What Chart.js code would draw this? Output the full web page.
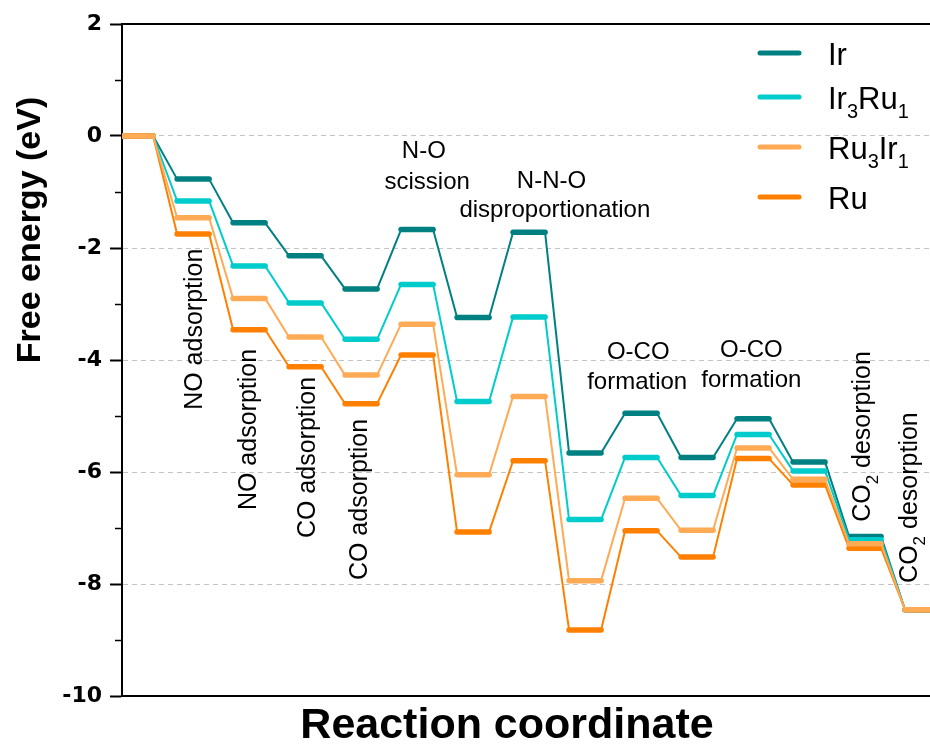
<!DOCTYPE html>
<html>
<head>
<meta charset="utf-8">
<title>Free energy profile</title>
<script src="https://cdn.jsdelivr.net/npm/chart.js@4.4.1/dist/chart.umd.min.js"></script>
<style>
  html, body { margin: 0; padding: 0; background: #fff; }
  #wrap { width: 930px; height: 752px; }
</style>
</head>
<body>
<div id="wrap"><canvas id="energy_chart" width="930" height="752"></canvas></div>
<script>
// reaction steps (intermediates) along the coordinate
var steps = [0, 1, 2, 3, 4, 5, 6, 7, 8, 9, 10, 11, 12, 13, 14];

// free energy of each intermediate (eV)
var irEnergy     = [0, -0.77, -1.55, -2.14, -2.73, -1.67, -3.24, -1.72, -5.66, -4.95, -5.74, -5.05, -5.82, -7.15, -8.46];
var ir3ru1Energy = [0, -1.16, -2.32, -2.98, -3.63, -2.65, -4.74, -3.23, -6.85, -5.74, -6.42, -5.33, -5.98, -7.21, -8.46];
var ru3ir1Energy = [0, -1.46, -2.90, -3.59, -4.27, -3.36, -6.05, -4.65, -7.94, -6.47, -7.04, -5.57, -6.13, -7.28, -8.46];
var ruEnergy     = [0, -1.75, -3.46, -4.12, -4.78, -3.91, -7.07, -5.80, -8.82, -7.05, -7.52, -5.76, -6.23, -7.36, -8.46];

// "_n" marks a subscript digit
var seriesNames  = ['Ir', 'Ir_3Ru_1', 'Ru_3Ir_1', 'Ru'];
var seriesColors = ['#008080', '#00CCCC', '#FFAA55', '#FF8000'];

// step labels: x in step units, y in eV (rotated ones start at y and read upward)
var stepLabels = [
  { text: 'NO adsorption',      x: 1.16,  y: -4.89, rotate: true },
  { text: 'NO adsorption',      x: 2.13,  y: -6.68, rotate: true },
  { text: 'CO adsorption',      x: 3.18,  y: -7.18, rotate: true },
  { text: 'CO adsorption',      x: 4.11,  y: -7.93, rotate: true },
  { text: 'CO_2 desorption',    x: 13.09, y: -6.89, rotate: true },
  { text: 'CO_2 desorption',    x: 13.93, y: -7.98, rotate: true },
  { text: 'N-O',                x: 5.12,  y: -0.39 },
  { text: 'scission',           x: 5.18,  y: -0.95 },
  { text: 'N-N-O',              x: 7.40,  y: -0.93 },
  { text: 'disproportionation', x: 7.46,  y: -1.45 },
  { text: 'O-CO',               x: 8.95,  y: -3.99 },
  { text: 'formation',          x: 8.93,  y: -4.51 },
  { text: 'O-CO',               x: 10.97, y: -3.94 },
  { text: 'formation',          x: 10.97, y: -4.48 }
];

var FONT = '"Liberation Sans", Arial, sans-serif';
var TICK_FONT = '"DejaVu Sans", sans-serif';
var LEVEL_HALF = 0.286;   // half length of a level bar, in step units

// each intermediate becomes a short flat bar, joined to the next one
function levelPoints(values) {
  var pts = [];
  values.forEach(function (v, i) {
    pts.push({ x: steps[i] - LEVEL_HALF, y: v });
    pts.push({ x: steps[i] + LEVEL_HALF, y: v });
  });
  return pts;
}

// split "CO_2 desorption" into normal / subscript runs
function runsOf(text) {
  return text.split(/(_\d)/).filter(function (s) { return s.length; }).map(function (s) {
    return s.charAt(0) === '_' ? { t: s.slice(1), sub: true } : { t: s, sub: false };
  });
}

function drawRich(ctx, text, size, align) {
  var runs = runsOf(text);
  var subSize = Math.round(size * 0.66);
  var total = 0;
  runs.forEach(function (r) {
    ctx.font = (r.sub ? subSize : size) + 'px ' + FONT;
    r.w = ctx.measureText(r.t).width;
    total += r.w;
  });
  var x = align === 'center' ? -total / 2 : 0;
  ctx.textAlign = 'left';
  ctx.textBaseline = 'alphabetic';
  runs.forEach(function (r) {
    ctx.font = (r.sub ? subSize : size) + 'px ' + FONT;
    ctx.fillText(r.t, x, r.sub ? size * 0.3 : 0);
    x += r.w;
  });
}

var decorations = {
  id: 'decorations',
  afterDraw: function (chart) {
    var ctx = chart.ctx;
    var xs = chart.scales.x, ys = chart.scales.y;
    var area = chart.chartArea;
    ctx.save();

    // top frame line
    ctx.strokeStyle = '#000';
    ctx.lineWidth = 2;
    ctx.beginPath();
    ctx.moveTo(area.left - 1, area.top);
    ctx.lineTo(area.right, area.top);
    ctx.stroke();

    // minor ticks on the energy axis
    ctx.lineWidth = 1.5;
    for (var v = -9; v < 2; v += 2) {
      var py = Math.round(ys.getPixelForValue(v)) + 0.5;
      ctx.beginPath();
      ctx.moveTo(area.left - 7, py);
      ctx.lineTo(area.left, py);
      ctx.stroke();
    }

    // step labels
    ctx.fillStyle = '#000';
    stepLabels.forEach(function (lab) {
      ctx.save();
      ctx.translate(xs.getPixelForValue(lab.x), ys.getPixelForValue(lab.y));
      if (lab.rotate) {
        ctx.rotate(-Math.PI / 2);
        drawRich(ctx, lab.text, 25, 'left');
      } else {
        drawRich(ctx, lab.text, 24, 'center');
      }
      ctx.restore();
    });

    // legend
    var rows = [53, 97, 147, 197];
    seriesNames.forEach(function (name, i) {
      ctx.strokeStyle = seriesColors[i];
      ctx.lineWidth = 5;
      ctx.lineCap = 'round';
      ctx.beginPath();
      ctx.moveTo(760, rows[i]);
      ctx.lineTo(799, rows[i]);
      ctx.stroke();
      ctx.save();
      ctx.translate(828, rows[i] + 11.5);
      ctx.fillStyle = '#000';
      drawRich(ctx, name, 31, 'left');
      ctx.restore();
    });

    // axis titles
    ctx.fillStyle = '#000';
    ctx.textAlign = 'center';
    ctx.textBaseline = 'middle';
    ctx.font = 'bold 43px ' + FONT;
    ctx.fillText('Reaction coordinate', 507, 726);
    ctx.save();
    ctx.translate(31, 230);
    ctx.rotate(-Math.PI / 2);
    ctx.font = 'bold 34px ' + FONT;
    ctx.fillText('Free energy (eV)', 0, 0);
    ctx.restore();

    ctx.restore();
  }
};

var seriesValues = [irEnergy, ir3ru1Energy, ru3ir1Energy, ruEnergy];
// Ru3Ir1 sits on top where the profiles coincide
var drawOrder = [3, 2, 0, 1];

var datasets = seriesValues.map(function (vals, i) {
  return {
    label: seriesNames[i].replace(/_/g, ''),
    data: levelPoints(vals),
    borderColor: seriesColors[i],
    borderCapStyle: 'round',
    borderJoinStyle: 'round',
    pointRadius: 0,
    tension: 0,
    order: drawOrder[i],
    clip: { left: 0, right: 0, top: 10, bottom: 10 },
    segment: {
      borderWidth: function (c) { return c.p0DataIndex % 2 === 0 ? 5.5 : 2; }
    }
  };
});

var ctx = document.getElementById('energy_chart').getContext('2d');
var energyChart = new Chart(ctx, {
  type: 'line',
  data: { datasets: datasets },
  options: {
    responsive: false,
    animation: false,
    layout: { padding: { top: 24, right: 0, bottom: 0, left: 0 } },
    plugins: { legend: { display: false }, tooltip: { enabled: false } },
    scales: {
      x: {
        type: 'linear',
        min: -0.27,
        max: 14.16,
        afterFit: function (scale) { scale.height = 56; },
        ticks: { display: false },
        grid: { display: false, drawTicks: false },
        border: { color: '#000', width: 2 }
      },
      y: {
        min: -10,
        max: 2,
        afterFit: function (scale) { scale.width = 122; },
        ticks: {
          stepSize: 2,
          color: '#000',
          padding: 8,
          font: { family: TICK_FONT, size: 22, weight: 'bold' }
        },
        grid: {
          color: function (c) {
            var v = c.tick ? c.tick.value : 0;
            return (v > -10 && v < 2) ? '#c4c4c4' : 'rgba(0,0,0,0)';
          },
          lineWidth: 1,
          tickColor: '#000',
          tickLength: 12,
          tickWidth: 2
        },
        border: { color: '#000', width: 2, dash: [5, 4] }
      }
    }
  },
  plugins: [decorations]
});
</script>
</body>
</html>
